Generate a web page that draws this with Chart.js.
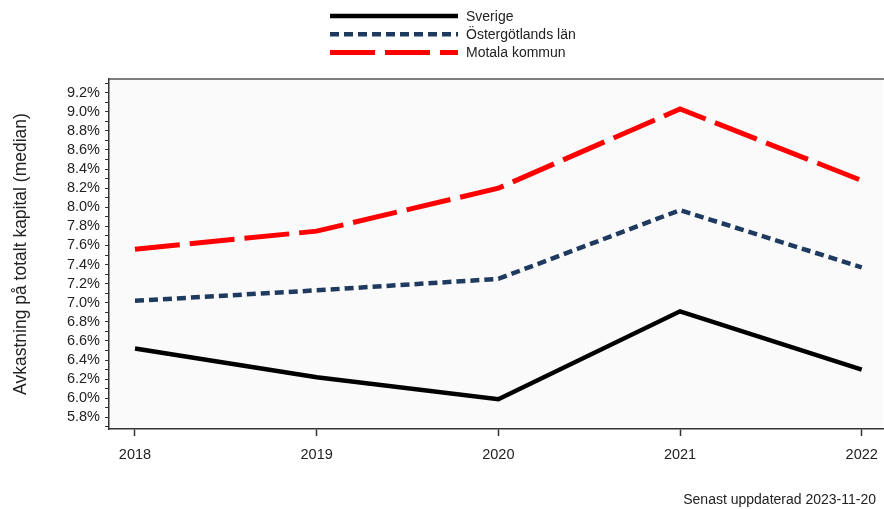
<!DOCTYPE html>
<html lang="sv">
<head>
<meta charset="UTF-8" />
<title>Avkastning på totalt kapital (median)</title>
<script src="https://cdn.jsdelivr.net/npm/chart.js@4.4.1/dist/chart.umd.min.js"></script>
<style>
  html, body { margin: 0; padding: 0; background: #fff; }
  #wrap { width: 884px; height: 509px; }
</style>
</head>
<body>
<div id="wrap"><canvas id="chart" width="884" height="509"></canvas></div>
<script>
// --- data (percent) ---
const years = [2018, 2019, 2020, 2021, 2022];
const sverige = [6.52, 6.22, 5.99, 6.91, 6.30];
const ostergotland = [7.02, 7.13, 7.25, 7.97, 7.37];
const motala = [7.56, 7.75, 8.20, 9.03, 8.28];
const seriesNames = ['Sverige', 'Östergötlands län', 'Motala kommun'];

// y ticks every 0.1 %, label on every 0.2 %
const yTickValues = [];
for (let i = 57; i <= 93; i++) yTickValues.push(i / 10);

const yAxisTitle = 'Avkastning på totalt kapital (median)';
const footerText = 'Senast uppdaterad 2023-11-20';

const FONT = "'Liberation Sans', Arial, sans-serif";
const TEXT = '#222';

const toPoints = vals => vals.map((v, i) => ({ x: years[i], y: v }));

// plot background, top frame line, stacked legend and footer
const frame = {
  id: 'frame',
  beforeDraw(chart) {
    const { ctx, chartArea: a } = chart;
    ctx.save();
    ctx.fillStyle = '#fafafa';
    ctx.fillRect(a.left, a.top, a.right - a.left, a.bottom - a.top);
    ctx.restore();
  },
  afterDraw(chart) {
    const { ctx, chartArea: a } = chart;
    ctx.save();
    ctx.strokeStyle = '#555';
    ctx.lineWidth = 1.5;
    ctx.beginPath();
    ctx.moveTo(a.left, a.top);
    ctx.lineTo(chart.width, a.top);
    ctx.stroke();

    // legend
    ctx.font = '14px ' + FONT;
    ctx.textBaseline = 'middle';
    ctx.textAlign = 'left';
    chart.data.datasets.forEach((ds, i) => {
      const y = 16 + i * 18.3;
      ctx.strokeStyle = ds.borderColor;
      ctx.lineWidth = ds.borderWidth;
      ctx.setLineDash(ds.borderDash || []);
      ctx.lineCap = 'butt';
      ctx.beginPath();
      ctx.moveTo(330, y);
      ctx.lineTo(458, y);
      ctx.stroke();
      ctx.setLineDash([]);
      ctx.fillStyle = TEXT;
      ctx.fillText(ds.label, 466, y + 1);
    });

    // footer
    ctx.textAlign = 'right';
    ctx.fillText(footerText, 876, 500);
    ctx.restore();
  }
};

new Chart(document.getElementById('chart'), {
  type: 'line',
  data: {
    datasets: [
      {
        label: seriesNames[0],
        data: toPoints(sverige),
        borderColor: '#000000',
        borderWidth: 4.5,
        pointRadius: 0,
        tension: 0
      },
      {
        label: seriesNames[1],
        data: toPoints(ostergotland),
        borderColor: '#1f3a5f',
        borderWidth: 4.5,
        borderDash: [9, 5],
        pointRadius: 0,
        tension: 0
      },
      {
        label: seriesNames[2],
        data: toPoints(motala),
        borderColor: '#ff0000',
        borderWidth: 5,
        borderDash: [45, 10],
        pointRadius: 0,
        tension: 0
      }
    ]
  },
  options: {
    responsive: false,
    animation: false,
    layout: { padding: { top: 79, right: 1, bottom: 0, left: 0 } },
    plugins: {
      legend: { display: false },
      tooltip: { enabled: false }
    },
    scales: {
      x: {
        type: 'linear',
        min: 2017.857,
        max: 2022.117,
        afterBuildTicks: s => { s.ticks = years.map(v => ({ value: v })); },
        afterFit: s => { s.height = 80; s.paddingLeft = 0; s.paddingRight = 0; },
        ticks: {
          autoSkip: false,
          maxRotation: 0,
          padding: 10,
          color: TEXT,
          font: { family: FONT, size: 14.5 },
          callback: v => String(v)
        },
        grid: { drawOnChartArea: false, tickLength: 7, tickWidth: 1.5, tickColor: '#333' },
        border: { color: '#333', width: 1.5 }
      },
      y: {
        type: 'linear',
        min: 5.6775,
        max: 9.3435,
        afterBuildTicks: s => { s.ticks = yTickValues.map(v => ({ value: v })); },
        afterFit: s => { s.width = 109; s.paddingTop = 0; s.paddingBottom = 0; },
        ticks: {
          autoSkip: false,
          padding: 5,
          color: TEXT,
          font: { family: FONT, size: 14.5 },
          callback: v => (Math.round(v * 10) % 2 === 0 ? v.toFixed(1) + '%' : '')
        },
        grid: { drawOnChartArea: false, tickLength: 4, tickWidth: 1, tickColor: '#333' },
        border: { color: '#333', width: 1.5 },
        title: {
          display: true,
          text: yAxisTitle,
          color: TEXT,
          font: { family: FONT, size: 17.5 },
          padding: { top: 11, bottom: 0 }
        }
      }
    }
  },
  plugins: [frame]
});
</script>
</body>
</html>
